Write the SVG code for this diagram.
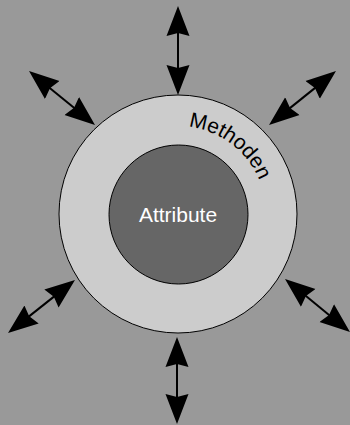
<svg xmlns="http://www.w3.org/2000/svg" xmlns:xlink="http://www.w3.org/1999/xlink" width="350" height="425" viewBox="0 0 350 425">
<style>
.conn{stroke:#000;stroke-width:2;fill:none;marker-start:url(#ah);marker-end:url(#ah)}
.lbl{font-family:"Liberation Sans",Arial,sans-serif;font-size:21px}
</style>
<defs>
<marker id="ah" markerUnits="userSpaceOnUse" markerWidth="30" markerHeight="24" viewBox="0 0 30 24" refX="10" refY="12" orient="auto-start-reverse">
<path d="M30,12 L0,0.5 L3,12 L0,23.5 Z" fill="#000"/>
</marker>
<path id="arc" d="M178,126 A88,88 0 1 1 177.9,126"/>
</defs>
<rect width="350" height="425" fill="#999999"/>
<g id="methoden">
<circle cx="178" cy="214" r="119" fill="#cccccc" stroke="#000" stroke-width="1"/>
<text class="lbl" fill="#000"><textPath xlink:href="#arc" href="#arc" startOffset="10.5">Methoden</textPath></text>
</g>
<g id="attribute">
<circle cx="178.5" cy="214.5" r="69.5" fill="#666666" stroke="#000" stroke-width="1"/>
<text class="lbl" x="178" y="222" text-anchor="middle" fill="#fff">Attribute</text>
</g>
<g id="connectors">
<line class="conn" x1="178" y1="26" x2="178" y2="75"/>
<line class="conn" x1="177" y1="357" x2="177" y2="404"/>
<line class="conn" x1="44.5" y1="83.7" x2="79.5" y2="112.3"/>
<line class="conn" x1="320.4" y1="83.6" x2="284.6" y2="112.4"/>
<line class="conn" x1="23.7" y1="320.6" x2="59.3" y2="292.4"/>
<line class="conn" x1="300.5" y1="291.6" x2="334.5" y2="319.4"/>
</g>
</svg>
